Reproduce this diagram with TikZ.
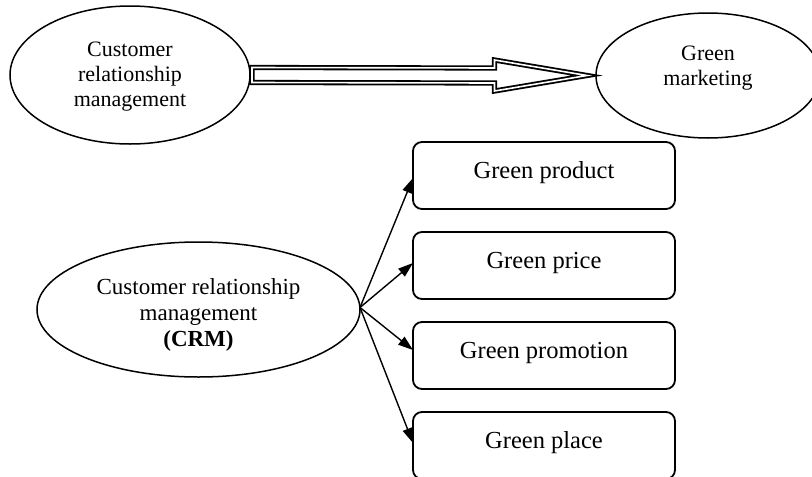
\documentclass[tikz,border=0pt]{standalone}
\usepackage{fontspec}
\setmainfont{Liberation Serif}
\usetikzlibrary{arrows.meta,calc,shapes.geometric}
\begin{document}
\begin{tikzpicture}[x=1pt,y=-1pt,
  ell/.style={ellipse, draw, line width=1.5pt, inner sep=0pt, outer sep=0pt, align=center},
  box/.style={rectangle, rounded corners=9pt, draw, line width=1.8pt, minimum width=262pt, minimum height=67pt, inner sep=0pt, outer sep=0pt, font=\fontsize{24.5}{26}\selectfont, text height=17pt, text depth=12pt},
  fan/.style={line width=1.4pt, -{Triangle[length=15pt,width=10pt]}},
  big/.style={draw, fill=white, double, double distance=1.6pt, line width=1.8pt, miter limit=20}]
\useasboundingbox (0,0) rectangle (812,477);
\clip (0,0) rectangle (812,477);

\node[ell, minimum width=240pt, minimum height=138pt, font=\fontsize{22}{25}\selectfont, text height=66pt, text depth=4pt] (e1) at (130,75) {Customer\\relationship\\management};
\node[ell, minimum width=224pt, minimum height=125pt, font=\fontsize{22}{25}\selectfont, text height=40pt, text depth=21pt] (e2) at (708,75.5) {Green\\marketing};
\node[ell, minimum width=323pt, minimum height=135pt, font=\fontsize{23}{26}\selectfont, text height=78pt, text depth=5pt] (crm) at (198.5,309.5) {Customer relationship\\management\\\textbf{(CRM)}};

\node[box] (b1) at (544,175.5) {Green product};
\node[box] (b2) at (544,265.5) {Green price};
\node[box] (b3) at (544,355.5) {Green promotion};
\node[box] (b4) at (544,445.5) {Green place};

\coordinate (s) at ($(e1.east)+(2,0)$);
\coordinate (t) at ($(e2.west)+(-9,0)$);
\draw[big] ($(s)+(0,-7.5)$) -- ($(t)+(-92.5,-7.5)$) -- ($(t)+(-92.5,-15.5)$) -- (t)
  -- ($(t)+(-92.5,15.5)$) -- ($(t)+(-92.5,7.5)$) -- ($(s)+(0,7.5)$) -- cycle;

\draw[fan] ([yshift=2pt]crm.east) -- ([yshift=-2.5pt]b1.west);
\draw[fan] ([yshift=2pt]crm.east) -- ([yshift=2.5pt]b2.west);
\draw[fan] ([yshift=2pt]crm.east) -- ([yshift=5.5pt]b3.west);
\draw[fan] ([yshift=2pt]crm.east) -- ([yshift=2.5pt]b4.west);
\end{tikzpicture}
\end{document}
